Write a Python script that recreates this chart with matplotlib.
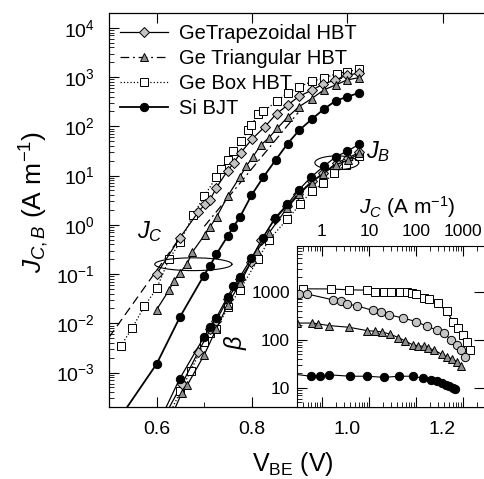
import numpy as np
import matplotlib
matplotlib.use('Agg')
import matplotlib.pyplot as plt
from matplotlib.lines import Line2D
from matplotlib.ticker import FixedLocator, LogLocator, NullFormatter

plt.rcParams['font.family'] = ['Liberation Sans', 'DejaVu Sans']
plt.rcParams['mathtext.fontset'] = 'custom'
plt.rcParams['mathtext.rm'] = 'Liberation Sans'
plt.rcParams['mathtext.it'] = 'Liberation Sans:italic'

# ---- main panel: J_C and J_B vs V_BE ----
v_box_c = [0.525, 0.549, 0.574, 0.600, 0.626, 0.649, 0.676, 0.700, 0.725, 0.736, 0.749, 0.761, 0.778,
           0.792, 0.799, 0.813, 0.824, 0.852, 0.876, 0.899, 0.925, 0.951, 0.978, 1.000, 1.025]
j_box_c = [3.5e-3, 8.1e-3, 2.2e-2, 5.1e-2, 0.20, 0.44, 1.55, 3.8, 9.3, 13.8, 20.9, 30.9, 50,
           85, 107, 174, 200, 324, 479, 631, 813, 955, 1175, 1288, 1445]

v_trap_c = [0.600, 0.649, 0.687, 0.701, 0.712, 0.725, 0.749, 0.762, 0.776, 0.801, 0.827, 0.852,
            0.876, 0.899, 0.925, 0.950, 0.975, 0.999, 1.025]
j_trap_c = [0.10, 0.55, 1.8, 2.6, 3.2, 5.6, 12.6, 18.2, 28.8, 56, 98, 182,
            275, 407, 537, 724, 871, 1096, 1202]

v_tri_c = [0.600, 0.626, 0.636, 0.649, 0.664, 0.675, 0.701, 0.712, 0.726, 0.749, 0.775, 0.788,
           0.802, 0.818, 0.836, 0.853, 0.876, 0.899, 0.925, 0.951, 0.976, 0.999, 1.025]
j_tri_c = [0.019, 0.047, 0.072, 0.107, 0.162, 0.28, 0.63, 0.91, 1.45, 3.8, 9.5, 15.5,
           24, 41, 59, 91, 158, 251, 363, 550, 692, 871, 977]

v_si_c = [0.600, 0.649, 0.699, 0.712, 0.725, 0.749, 0.761, 0.775, 0.799, 0.824, 0.850, 0.875,
          0.899, 0.925, 0.951, 0.976, 1.000, 1.025]
j_si_c = [1.5e-3, 0.0135, 0.093, 0.148, 0.25, 0.59, 0.91, 1.45, 4.0, 9.3, 20.9, 44.7,
          83, 138, 224, 331, 398, 479]

v_si_b = [0.648, 0.700, 0.712, 0.725, 0.749, 0.761, 0.775, 0.799, 0.823, 0.848, 0.874, 0.899,
          0.924, 0.951, 0.976, 0.999, 1.025]
j_si_b = [7.4e-4, 5.4e-3, 8.3e-3, 0.0129, 0.035, 0.056, 0.089, 0.21, 0.55, 1.38, 2.6, 5.2,
          9.3, 15.5, 24, 31, 43]

v_box_b = [0.650, 0.672, 0.700, 0.713, 0.725, 0.750, 0.775, 0.813, 0.836, 0.874, 0.901, 0.925,
           0.950, 0.973, 0.997, 1.025]
j_box_b = [4.2e-4, 1.1e-3, 4.2e-3, 6.5e-3, 7.8e-3, 0.021, 0.048, 0.20, 0.50, 1.29, 2.6, 4.8,
           7.1, 11.2, 16.6, 24.5]

v_trap_b = [0.653, 0.687, 0.713, 0.725, 0.749, 0.775, 0.799, 0.820, 0.848, 0.873, 0.897, 0.925,
            0.950, 0.978, 1.002, 1.025]
j_trap_b = [5.8e-4, 2.6e-3, 7.6e-3, 0.0112, 0.031, 0.078, 0.18, 0.50, 1.29, 2.4, 4.2, 7.6,
            11.2, 18.2, 22.9, 29.5]

v_tri_b = [0.653, 0.664, 0.700, 0.725, 0.749, 0.775, 0.810, 0.836, 0.874, 0.899, 0.925, 0.950,
           0.976, 1.002, 1.025]
j_tri_b = [3.9e-4, 5.5e-4, 2.3e-3, 7.6e-3, 0.024, 0.065, 0.29, 0.69, 2.2, 4.2, 7.2, 11.0,
           16.6, 20.4, 28.2]

# line continuations below the first measured points
v_si_c_ext, j_si_c_ext = [0.525, 0.600], [1.3e-4, 1.5e-3]
v_trap_c_ext, j_trap_c_ext = [0.50, 0.649], [5.2e-3, 0.55]
v_tri_fit, j_tri_fit = [0.70, 0.897], [0.93, 190]
v_si_b_ext, j_si_b_ext = [0.614, 0.648], [1.5e-4, 7.4e-4]
v_trap_b_ext, j_trap_b_ext = [0.620, 0.653], [1.5e-4, 5.8e-4]
v_box_b_ext, j_box_b_ext = [0.628, 0.650], [1.5e-4, 4.2e-4]
v_tri_b_ext, j_tri_b_ext = [0.634, 0.653], [1.5e-4, 3.9e-4]

# ellipses marking J_C and J_B (centre V, centre log10 J, half width V, half height decades)
ell_c = (0.677, -0.80, 0.081, 0.13)
ell_b = (0.978, 1.26, 0.046, 0.14)

# ---- inset: beta vs J_C ----
jc_box_in = [0.40, 1.53, 3.8, 8.9, 13.5, 21, 30, 46, 63, 81, 100, 145, 190, 290, 450, 620, 800, 1020, 1200, 1410]
beta_box_in = [1155, 1150, 1100, 1085, 1015, 985, 985, 985, 985, 940, 895, 740, 705, 580, 390, 240, 175, 126, 91, 62]

jc_trap_in = [0.33, 0.49, 1.74, 2.5, 3.5, 5.5, 12, 17.8, 27, 54, 102, 174, 275, 400, 550, 740, 930, 1100]
beta_trap_in = [900, 900, 680, 630, 555, 515, 410, 375, 333, 283, 240, 190, 161, 138, 100, 79, 62, 43]

jc_tri_in = [0.29, 0.63, 0.83, 1.45, 3.8, 9.1, 13.5, 18.6, 28, 42, 59, 85, 112, 145, 182, 240, 355, 447, 590, 740, 910]
beta_tri_in = [224, 224, 215, 198, 183, 156, 151, 147, 132, 112, 95, 79, 75, 73, 67, 62, 50, 45, 40, 35, 29]

jc_si_in = [0.58, 0.91, 1.45, 4.0, 9.1, 21, 44, 85, 138, 209, 282, 355, 437, 513, 603, 676]
beta_si_in = [17.5, 17.5, 18.7, 17.5, 17.5, 16.6, 17.5, 17.5, 16, 14.7, 13.6, 12.6, 11.6, 10.7, 10, 9.4]
jc_si_in_ext, beta_si_in_ext = [0.29, 0.58], [19, 17.5]

labels = ['GeTrapezoidal HBT', 'Ge Triangular HBT', 'Ge Box HBT', 'Si BJT']

light = '#c4c4c4'
mid = '#8e8e8e'

fig = plt.figure(figsize=(4.84, 4.79), dpi=100)
ax = fig.add_axes([0.2252, 0.1503, 0.7748, 0.8226])

lw = 0.9
kw = dict(markeredgecolor='black', markeredgewidth=0.7)

# J_C
ax.plot(v_si_c_ext, j_si_c_ext, '-', color='black', lw=1.3)
ax.plot(v_trap_c_ext, j_trap_c_ext, color='black', lw=lw, dashes=(7, 4))
ax.plot(v_tri_fit, j_tri_fit, color='black', lw=lw, dashes=(7, 3, 1.5, 3))
ax.plot(v_box_c, j_box_c, ':', color='black', lw=lw, marker='s', ms=5.5, mfc='white', **kw)
ax.plot(v_trap_c, j_trap_c, '-', color='black', lw=lw, marker='D', ms=5, mfc=light, **kw)
ax.plot(v_tri_c, j_tri_c, '-', color='black', lw=lw, marker='^', ms=6, mfc=mid, **kw)
ax.plot(v_si_c, j_si_c, '-', color='black', lw=1.3, marker='o', ms=6, mfc='black', **kw)

# J_B
ax.plot(v_si_b_ext, j_si_b_ext, '-', color='black', lw=lw)
ax.plot(v_trap_b_ext, j_trap_b_ext, '-', color='black', lw=lw)
ax.plot(v_box_b_ext, j_box_b_ext, ':', color='black', lw=lw)
ax.plot(v_tri_b_ext, j_tri_b_ext, '-', color='black', lw=lw)
ax.plot(v_box_b, j_box_b, ':', color='black', lw=lw, marker='s', ms=5.5, mfc='white', **kw)
ax.plot(v_trap_b, j_trap_b, '-', color='black', lw=lw, marker='D', ms=5, mfc=light, **kw)
ax.plot(v_tri_b, j_tri_b, '-', color='black', lw=lw, marker='^', ms=6, mfc=mid, **kw)
ax.plot(v_si_b, j_si_b, '-', color='black', lw=lw, marker='o', ms=6, mfc='black', **kw)

t = np.linspace(0, 2 * np.pi, 200)
for vc, lc, a, b in (ell_c, ell_b):
    ax.plot(vc + a * np.cos(t), 10 ** (lc + b * np.sin(t)), color='black', lw=0.8)

ax.set_yscale('log')
ax.set_xlim(0.5, 1.287)
ax.set_ylim(2.0e-4, 2.0e4)
ax.xaxis.set_major_locator(FixedLocator([0.6, 0.8, 1.0, 1.2]))
ax.xaxis.set_minor_locator(FixedLocator([0.7, 0.9, 1.1]))
ax.set_xticklabels(['0.6', '0.8', '1.0', '1.2'])
ax.yaxis.set_major_locator(LogLocator(base=10, numticks=20))
ax.yaxis.set_minor_locator(LogLocator(base=10, subs=np.arange(2, 10), numticks=20))
ax.yaxis.set_minor_formatter(NullFormatter())
ax.tick_params(which='major', direction='in', length=7, width=0.8, labelsize=14, pad=10, top=True, right=False)
ax.tick_params(which='minor', direction='in', length=3.5, width=0.6, top=False, right=False)
ax.spines['right'].set_visible(False)
for s in ax.spines.values():
    s.set_linewidth(0.9)

ax.set_ylabel(r'$J_{C,B}$ (A m$^{-1}$)', fontsize=19)
ax.yaxis.set_label_coords(-0.155, 0.52)
ax.set_xlabel(r'V$_{\mathrm{BE}}$ (V)', fontsize=18)
ax.xaxis.set_label_coords(0.49, -0.108)

ax.text(0.586, 0.72, r'$J_C$', fontsize=17, ha='center', va='center')
ax.text(1.065, 31, r'$J_B$', fontsize=17, ha='center', va='center')

handles = [
    Line2D([], [], color='black', lw=lw, marker='D', ms=5, mfc=light, **kw),
    Line2D([], [], color='black', lw=lw, dashes=(7, 3, 1.5, 3), marker='^', ms=6, mfc=mid, **kw),
    Line2D([], [], color='black', lw=lw, ls=':', marker='s', ms=5.5, mfc='white', **kw),
    Line2D([], [], color='black', lw=1.3, marker='o', ms=6, mfc='black', **kw),
]
ax.legend(handles, labels, loc='upper left', bbox_to_anchor=(0.0, 1.0), frameon=False,
          fontsize=14.5, handlelength=2.4, handletextpad=0.55, labelspacing=0.3,
          borderaxespad=0.25, borderpad=0.3)

# inset
ax_in = fig.add_axes([0.6136, 0.1503, 0.3864, 0.3361])
ax_in.set_facecolor('white')
ax_in.plot(jc_si_in_ext, beta_si_in_ext, '-', color='black', lw=0.8)
ax_in.plot(jc_box_in, beta_box_in, '-', color='black', lw=0.8, marker='s', ms=5.5, mfc='white', **kw)
ax_in.plot(jc_trap_in, beta_trap_in, '-', color='black', lw=0.8, marker='o', ms=6, mfc=light, **kw)
ax_in.plot(jc_tri_in, beta_tri_in, '-', color='black', lw=0.8, marker='^', ms=6, mfc=mid, **kw)
ax_in.plot(jc_si_in, beta_si_in, '-', color='black', lw=0.8, marker='o', ms=6, mfc='black', **kw)
ax_in.set_xscale('log')
ax_in.set_yscale('log')
ax_in.set_xlim(0.295, 2800)
ax_in.set_ylim(4.0, 9000)
ax_in.xaxis.set_major_locator(FixedLocator([1, 10, 100, 1000]))
ax_in.set_xticklabels(['1', '10', '100', '1000'])
ax_in.xaxis.set_minor_locator(LogLocator(base=10, subs=np.arange(2, 10), numticks=20))
ax_in.xaxis.set_minor_formatter(NullFormatter())
ax_in.yaxis.set_major_locator(FixedLocator([10, 100, 1000]))
ax_in.set_yticklabels(['10', '100', '1000'])
ax_in.yaxis.set_minor_locator(LogLocator(base=10, subs=np.arange(2, 10), numticks=20))
ax_in.yaxis.set_minor_formatter(NullFormatter())
ax_in.tick_params(which='major', direction='in', length=7, width=0.8, labelsize=12.5, pad=5,
                  top=True, bottom=True, labeltop=True, labelbottom=False, right=True, left=True)
ax_in.tick_params(which='minor', direction='in', length=3.5, width=0.6, top=True, bottom=True, right=False)
ax_in.spines['right'].set_visible(False)
ax_in.xaxis.set_label_position('top')
ax_in.set_xlabel(r'$J_C$ (A m$^{-1}$)', fontsize=15)
ax_in.xaxis.set_label_coords(0.59, 1.2)
ax_in.set_ylabel(r'$\beta$', fontsize=17)
ax_in.yaxis.set_label_coords(-0.255, 0.40)

fig.savefig('out.png', dpi=100)
